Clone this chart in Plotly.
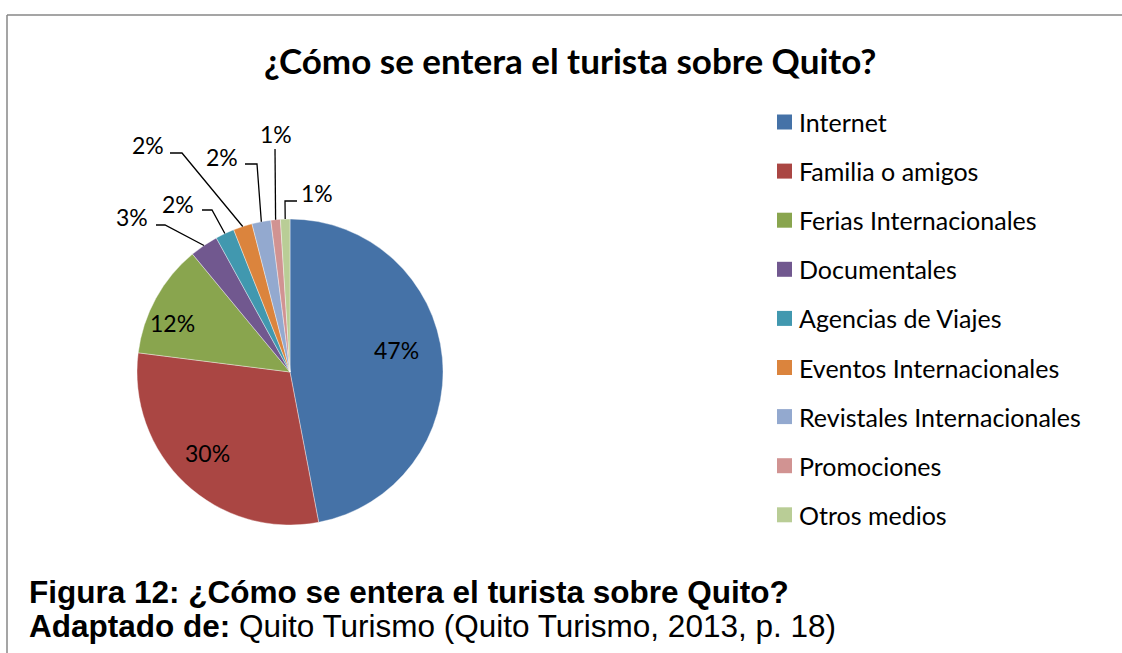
import math
import plotly.graph_objects as go

# ---------------- data ----------------
categories = ["Internet", "Familia o amigos", "Ferias Internacionales", "Documentales",
              "Agencias de Viajes", "Eventos Internacionales", "Revistales Internacionales",
              "Promociones", "Otros medios"]
values = [47, 30, 12, 3, 2, 2, 2, 1, 1]
colors = ["#4572A7", "#AA4643", "#89A54E", "#71588F", "#4198AF",
          "#DB843D", "#93A9CF", "#D19392", "#B9CD96"]

title_text = "¿Cómo se entera el turista sobre Quito?"
caption1 = "<b>Figura 12: ¿Cómo se entera el turista sobre Quito?</b>"
caption2 = "<b>Adaptado de:</b> Quito Turismo (Quito Turismo, 2013, p. 18)"

# ---------------- layout (pixels) ----------------
W, H = 1122, 653
CX, CY, R = 290, 372, 153
FONT = "Lato"
LBL = 23

# label placement for each slice: (text x, text y, elbow x, elbow y, end x, end y) or inside
label_pos = [
    ("in", 396, 350),
    ("in", 207, 453),
    ("in", 172, 323),
    ("out", 132, 217, 165, 225, 156, 225),
    ("out", 178, 204, 212, 210, 202, 210),
    ("out", 148, 145, 182, 153, 170, 153),
    ("out", 222, 157, 257, 164, 245, 164),
    ("out", 276, 134, 275, 149, 275, 149),
    ("out", 317, 193, 285, 201, 297, 201),
]


def px(x):
    return x / W


def py(y):
    return 1 - y / H


fig = go.Figure(go.Pie(
    labels=categories, values=values, sort=False, direction="clockwise", rotation=0,
    marker=dict(colors=colors, line=dict(width=0.7, color="rgba(255,255,255,0.55)")),
    textinfo="none", hoverinfo="label+percent", showlegend=False,
    domain=dict(x=[px(CX - R), px(CX + R)], y=[py(CY + R), py(CY - R)]),
))

annotations = []
shapes = []

# frame lines
shapes.append(dict(type="line", xref="paper", yref="paper", x0=px(7), y0=py(15), x1=1, y1=py(15),
                   line=dict(color="#878787", width=1.5)))
shapes.append(dict(type="line", xref="paper", yref="paper", x0=px(7), y0=py(15), x1=px(7), y1=0,
                   line=dict(color="#878787", width=1.5)))

total = sum(values)
cum = 0
for i, v in enumerate(values):
    mid = (cum + v / 2) / total * 2 * math.pi
    cum += v
    pct = f"{round(v / total * 100)}%"
    lp = label_pos[i]
    annotations.append(dict(x=px(lp[1]), y=py(lp[2]), xref="paper", yref="paper", text=pct,
                            showarrow=False, xanchor="center", yanchor="middle",
                            font=dict(family=FONT, size=LBL, color="#000000")))
    if lp[0] == "out":
        ax = CX + R * math.sin(mid)
        ay = CY - R * math.cos(mid)
        path = f"M {px(ax)} {py(ay)} L {px(lp[3])} {py(lp[4])} L {px(lp[5])} {py(lp[6])}"
        shapes.append(dict(type="path", xref="paper", yref="paper", path=path,
                           line=dict(color="#000000", width=1.3)))

# legend
LEG_X, LEG_Y0, LEG_STEP, SQ = 777, 122, 49.1, 15
for i, (c, col) in enumerate(zip(categories, colors)):
    yc = LEG_Y0 + i * LEG_STEP
    shapes.append(dict(type="rect", xref="paper", yref="paper",
                       x0=px(LEG_X), x1=px(LEG_X + SQ), y0=py(yc - SQ / 2), y1=py(yc + SQ / 2),
                       fillcolor=col, line=dict(width=0)))
    annotations.append(dict(x=px(797), y=py(yc), xref="paper", yref="paper", text=c,
                            showarrow=False, xanchor="left", yanchor="middle",
                            font=dict(family=FONT, size=25, color="#000000")))

# title
annotations.append(dict(x=px(570), y=py(60), xref="paper", yref="paper", text=f"<b>{title_text}</b>",
                        showarrow=False, xanchor="center", yanchor="middle",
                        font=dict(family=FONT, size=35, color="#000000")))
# captions
annotations.append(dict(x=px(27), y=py(592), xref="paper", yref="paper", text=caption1,
                        showarrow=False, xanchor="left", yanchor="middle",
                        font=dict(family="Liberation Sans", size=31.5, color="#000000")))
annotations.append(dict(x=px(27), y=py(626), xref="paper", yref="paper", text=caption2,
                        showarrow=False, xanchor="left", yanchor="middle",
                        font=dict(family="Liberation Sans", size=31.5, color="#000000")))

fig.update_layout(width=W, height=H, margin=dict(l=0, r=0, t=0, b=0),
                  paper_bgcolor="white", plot_bgcolor="white",
                  annotations=annotations, shapes=shapes)

fig.write_html("out.html", config={"displayModeBar": False},
               post_script="document.body.style.margin='0px';document.body.style.overflow='hidden';")
